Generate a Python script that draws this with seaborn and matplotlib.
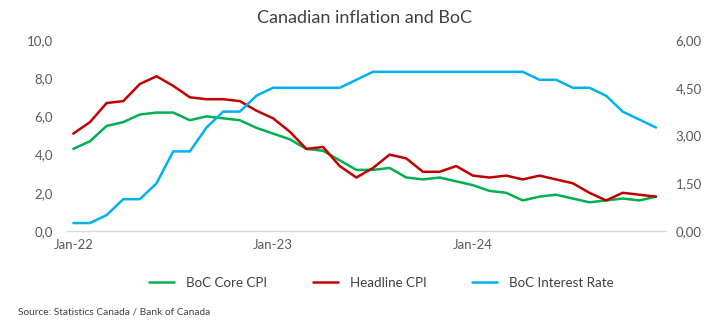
import matplotlib
matplotlib.use("Agg")
import matplotlib.pyplot as plt
import seaborn as sns
import pandas as pd
from matplotlib.ticker import FuncFormatter, FixedLocator
from matplotlib.lines import Line2D

# ---- data ----
months = [f"{m}-{y}" for y in ("22", "23", "24") for m in
          ("Jan", "Feb", "Mar", "Apr", "May", "Jun", "Jul", "Aug", "Sep", "Oct", "Nov", "Dec")]
core_cpi = [4.3, 4.7, 5.5, 5.7, 6.1, 6.2, 6.2, 5.8, 6.0, 5.9, 5.8, 5.4,
            5.1, 4.8, 4.3, 4.2, 3.7, 3.2, 3.2, 3.3, 2.8, 2.7, 2.8, 2.6,
            2.4, 2.1, 2.0, 1.6, 1.8, 1.9, 1.7, 1.5, 1.6, 1.7, 1.6, 1.8]
headline_cpi = [5.1, 5.7, 6.7, 6.8, 7.7, 8.1, 7.6, 7.0, 6.9, 6.9, 6.8, 6.3,
                5.9, 5.2, 4.3, 4.4, 3.4, 2.8, 3.3, 4.0, 3.8, 3.1, 3.1, 3.4,
                2.9, 2.8, 2.9, 2.7, 2.9, 2.7, 2.5, 2.0, 1.6, 2.0, 1.9, 1.8]
interest_rate = [0.25, 0.25, 0.5, 1.0, 1.0, 1.5, 2.5, 2.5, 3.25, 3.75, 3.75, 4.25,
                 4.5, 4.5, 4.5, 4.5, 4.5, 4.75, 5.0, 5.0, 5.0, 5.0, 5.0, 5.0,
                 5.0, 5.0, 5.0, 5.0, 4.75, 4.75, 4.5, 4.5, 4.25, 3.75, 3.5, 3.25]
tick_labels = ["Jan-22", "Jan-23", "Jan-24"]
series_names = ["BoC Core CPI", "Headline CPI", "BoC Interest Rate"]

df = pd.DataFrame({"idx": range(len(months)), "month": months,
                   "core": core_cpi, "headline": headline_cpi, "rate": interest_rate})

# ---- style ----
sns.set_theme(style="white")
plt.rcParams["font.family"] = ["Lato", "DejaVu Sans"]
GREEN, RED, BLUE = "#00B050", "#C00000", "#00B0F0"
TXT = "#595959"
LW = 1.8

fig = plt.figure(figsize=(7.21, 3.32), dpi=100)
ax = fig.add_axes([67 / 721, 1 - 231 / 332, 599 / 721, 191 / 332])
ax2 = ax.twinx()

sns.lineplot(data=df, x="idx", y="core", ax=ax, color=GREEN, linewidth=LW)
sns.lineplot(data=df, x="idx", y="headline", ax=ax, color=RED, linewidth=LW)
sns.lineplot(data=df, x="idx", y="rate", ax=ax2, color=BLUE, linewidth=LW)

ax.set_xlim(-0.38, 35.6)
ax.set_ylim(0, 10)
ax2.set_ylim(0, 6)

ax.set_yticks([0, 2, 4, 6, 8, 10])
ax.yaxis.set_major_formatter(FuncFormatter(lambda v, p: f"{v:.1f}".replace(".", ",")))
ax2.set_yticks([0, 1.5, 3.0, 4.5, 6.0])
ax2.yaxis.set_major_formatter(FuncFormatter(lambda v, p: f"{v:.2f}".replace(".", ",")))

ax.set_xticks([months.index("Jan-22"), months.index("Jan-23"), months.index("Jan-24")])
ax.set_xticklabels(tick_labels)
ax.xaxis.set_minor_locator(FixedLocator([-0.38, 11.6, 23.6, 35.6]))

for a in (ax, ax2):
    a.set_xlabel("")
    a.set_ylabel("")
    for s in a.spines.values():
        s.set_visible(False)
    a.grid(False)
ax.spines["bottom"].set_visible(True)
ax.spines["bottom"].set_color("#D9D9D9")
ax.spines["bottom"].set_linewidth(1.0)

ax.tick_params(axis="x", which="major", length=0, pad=6, labelsize=9.5, labelcolor=TXT)
ax.tick_params(axis="x", which="minor", length=4, width=1.0, color="#D9D9D9", direction="out")
ax.tick_params(axis="y", length=0, pad=10, labelsize=9.5, labelcolor=TXT)
ax2.tick_params(axis="y", length=0, pad=7, labelsize=9.5, labelcolor=TXT)

fig.text(0.506, 1 - 18 / 332, "Canadian inflation and BoC", ha="center", va="center",
         fontsize=13, color="#404040")

handles = [Line2D([], [], color=c, linewidth=LW) for c in (GREEN, RED, BLUE)]
fig.legend(handles, series_names, loc="center", bbox_to_anchor=(0.529, 1 - 283 / 332),
           ncol=3, frameon=False, fontsize=9.6, handlelength=1.9, handletextpad=0.9,
           columnspacing=3.4, labelcolor="#404040")

fig.text(18 / 721, 1 - 312 / 332, "Source: Statistics Canada / Bank of Canada", ha="left",
         va="center", fontsize=7.3, color="#404040")

fig.savefig("out.png", dpi=100)
